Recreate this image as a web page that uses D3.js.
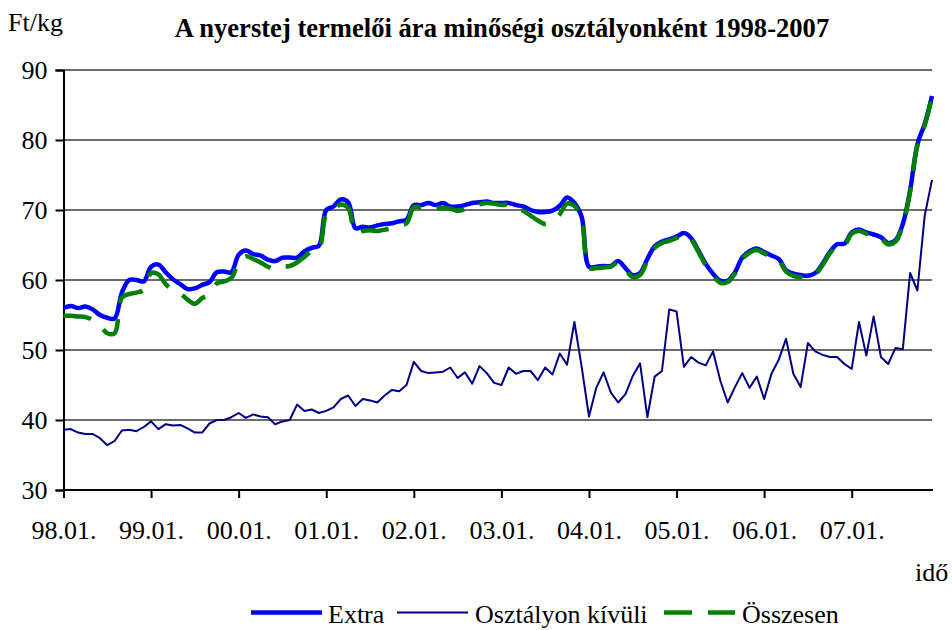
<!DOCTYPE html>
<html>
<head>
<meta charset="utf-8">
<script src="https://cdn.jsdelivr.net/npm/d3@7"></script>
<style>
  body { margin: 0; background: #fff; }
  svg text { font-family: "Times New Roman", "Liberation Serif", serif; fill: #000; }
</style>
</head>
<body>
<svg id="svg" width="952" height="630"></svg>
<script>
// tick labels on the x axis, one per January
const yearLabels = ["98.01.", "99.01.", "00.01.", "01.01.", "02.01.", "03.01.", "04.01.", "05.01.", "06.01.", "07.01."];
const yTicks = [30, 40, 50, 60, 70, 80, 90];

// monthly prices, Ft/kg, 1998.01 - 2007.12
const extra = [
  56.0, 56.3, 56.0, 56.2, 55.8, 55.0, 54.6, 54.5, 58.2, 60.0, 60.0, 59.8,
  61.9, 62.2, 61.1, 60.1, 59.4, 58.7, 58.8, 59.3, 59.7, 61.1, 61.2, 61.1,
  63.6, 64.2, 63.7, 63.5, 62.9, 62.7, 63.2, 63.2, 63.2, 64.1, 64.6, 64.9,
  70.0, 70.5, 71.5, 71.1, 67.4, 67.6, 67.5, 67.8, 68.0, 68.1, 68.4, 68.6,
  70.7, 70.7, 71.0, 70.7, 71.0, 70.5, 70.5, 70.7, 71.0, 71.1, 71.2, 71.0,
  71.0, 71.0, 70.7, 70.5, 70.0, 69.7, 69.7, 69.9, 70.6, 71.8, 71.0, 69.0,
  61.9, 61.9, 62.0, 62.0, 62.7, 61.7, 60.7, 61.0, 63.0, 64.8, 65.5, 65.8,
  66.2, 66.7, 66.0, 64.2, 62.3, 60.9, 59.9, 59.9, 61.1, 63.2, 64.1, 64.5,
  64.0, 63.5, 63.0, 61.4, 60.9, 60.7, 60.6, 61.0, 62.3, 64.0, 65.1, 65.2,
  66.8, 67.2, 66.8, 66.5, 66.1, 65.3, 65.7, 68.0, 72.8, 79.4, 82.3, 86.3
];
const kivuli = [
  38.6, 38.7, 38.2, 38.0, 38.0, 37.4, 36.4, 37.0, 38.5, 38.6, 38.4, 39.0,
  39.8, 38.7, 39.4, 39.2, 39.3, 38.8, 38.2, 38.2, 39.5, 40.0, 40.0, 40.4,
  41.0, 40.3, 40.8, 40.5, 40.4, 39.4, 39.8, 40.0, 42.2, 41.3, 41.5, 41.0,
  41.3, 41.8, 43.0, 43.5, 42.0, 43.0, 42.8, 42.5, 43.5, 44.3, 44.1, 45.0,
  48.3, 47.0, 46.7, 46.8, 46.9, 47.5, 46.0, 46.8, 45.2, 47.7, 46.7, 45.3,
  45.0, 47.5, 46.6, 47.0, 47.0, 45.7, 47.5, 46.5, 49.5, 47.9, 54.0, 47.6,
  40.5, 44.6, 46.8, 43.9, 42.5, 43.7, 46.3, 48.1, 40.4, 46.2, 47.0, 55.8,
  55.5, 47.6, 49.0, 48.2, 47.8, 49.8, 45.6, 42.5, 44.7, 46.7, 44.6, 46.2,
  43.0, 46.6, 48.6, 51.6, 46.6, 44.7, 51.0, 49.8, 49.3, 49.0, 49.0, 48.0,
  47.3, 54.0, 49.2, 54.8, 49.0, 48.0, 50.3, 50.1, 61.0, 58.5, 69.2, 74.3
];
const osszesen = [
  54.9, 54.9, 54.8, 54.7, 54.3, 53.5, 52.4, 52.4, 57.5, 58.0, 58.2, 58.6,
  61.0, 60.8, 59.4, 58.6, 58.1, 57.2, 56.6, 57.4, 58.0, 59.5, 59.8, 60.3,
  62.5, 63.4, 63.0, 62.5, 61.9, 61.5, 61.9, 62.0, 62.5, 63.3, 64.1, 64.4,
  69.4, 70.1, 70.8, 70.3, 66.8, 67.0, 67.1, 67.0, 67.2, 67.4, 67.8, 68.1,
  70.4, 70.4, 70.6, 70.3, 70.3, 70.2, 69.9, 70.1, 70.5, 70.8, 71.0, 70.9,
  70.7, 70.8, 70.4, 69.9, 69.2, 68.5, 68.0, 68.4, 69.4, 70.9, 70.6, 68.5,
  61.7, 61.7, 61.8, 61.9, 62.5, 61.5, 60.4, 60.7, 62.8, 64.6, 65.3, 65.6,
  66.0, 66.5, 65.8, 64.0, 62.1, 60.6, 59.6, 59.7, 60.9, 63.0, 63.9, 64.3,
  63.8, 63.3, 62.8, 61.2, 60.6, 60.4, 60.4, 60.8, 62.1, 63.8, 64.9, 65.0,
  66.6, 67.0, 66.6, 66.3, 65.9, 65.1, 65.5, 67.8, 72.6, 79.2, 82.1, 86.1
];

const svg = d3.select("svg#svg");
const plotLeft = 63.5, plotRight = 932, plotTop = 70, plotBottom = 490;

const x = d3.scaleLinear().domain([0, extra.length - 1]).range([plotLeft, plotRight]);
const y = d3.scaleLinear().domain([30, 90]).range([plotBottom, plotTop]);

// gridlines
svg.append("g").selectAll("line")
  .data(yTicks.filter(d => d > 30))
  .enter().append("line")
  .attr("x1", plotLeft).attr("x2", plotRight)
  .attr("y1", d => y(d)).attr("y2", d => y(d))
  .attr("stroke", "#3a3a3a").attr("stroke-width", 1.3);

// axes
const yAxis = svg.append("g").attr("transform", `translate(${plotLeft},0)`)
  .call(d3.axisLeft(y).tickValues(yTicks).tickSize(8).tickPadding(8));
const xAxis = svg.append("g").attr("transform", `translate(0,${plotBottom})`)
  .call(d3.axisBottom(x).tickValues(d3.range(0, 120, 12)).tickSize(8)
    .tickFormat((d, i) => yearLabels[i]));
[yAxis, xAxis].forEach(a => {
  a.select(".domain").attr("stroke", "#000").attr("stroke-width", 2);
  a.selectAll(".tick line").attr("stroke", "#000").attr("stroke-width", 2);
  a.selectAll("text").attr("font-size", 26);
  a.attr("font-family", null).attr("font-size", null);
});
yAxis.selectAll("text").attr("dy", "0.32em");
xAxis.selectAll("text").attr("y", 0).attr("dy", 0).attr("transform", "translate(0,48.5)");
xAxis.select(".domain").attr("d", `M${plotLeft},0H${plotRight + 1}`);

// series
const lineSmooth = d3.line().x((d, i) => x(i)).y(d => y(d)).curve(d3.curveCatmullRom.alpha(0.5));
const lineStraight = d3.line().x((d, i) => x(i)).y(d => y(d));

svg.append("path").datum(extra)
  .attr("d", lineSmooth).attr("fill", "none")
  .attr("stroke", "#0000ff").attr("stroke-width", 4.5).attr("stroke-linejoin", "round");
svg.append("path").datum(kivuli)
  .attr("d", lineStraight).attr("fill", "none")
  .attr("stroke", "#000080").attr("stroke-width", 2).attr("stroke-linejoin", "round");
svg.append("path").datum(osszesen)
  .attr("d", lineSmooth).attr("fill", "none")
  .attr("stroke", "#008000").attr("stroke-width", 4.5).attr("stroke-dasharray", "28,16");

// titles
svg.append("text").attr("x", 502).attr("y", 37).attr("text-anchor", "middle")
  .attr("font-size", 26.6).attr("font-weight", "bold")
  .text("A nyerstej termelői ára minőségi osztályonként 1998-2007");
svg.append("text").attr("x", 8).attr("y", 31).attr("font-size", 26).text("Ft/kg");
svg.append("text").attr("x", 915).attr("y", 581).attr("font-size", 26).text("idő");

// legend
const legend = [
  {name: "Extra", color: "#0000ff", w: 4.5, dash: null, x1: 251, x2: 322, tx: 328},
  {name: "Osztályon kívüli", color: "#000080", w: 2, dash: null, x1: 397, x2: 468, tx: 475},
  {name: "Összesen", color: "#008000", w: 4.5, dash: "28,16", x1: 664, x2: 735, tx: 742}
];
const lg = svg.append("g").selectAll("g").data(legend).enter().append("g");
lg.append("line").attr("x1", d => d.x1).attr("x2", d => d.x2)
  .attr("y1", 612.5).attr("y2", 612.5)
  .attr("stroke", d => d.color).attr("stroke-width", d => d.w)
  .attr("stroke-dasharray", d => d.dash);
lg.append("text").attr("x", d => d.tx).attr("y", 622.5).attr("font-size", 26).text(d => d.name);
</script>
</body>
</html>
